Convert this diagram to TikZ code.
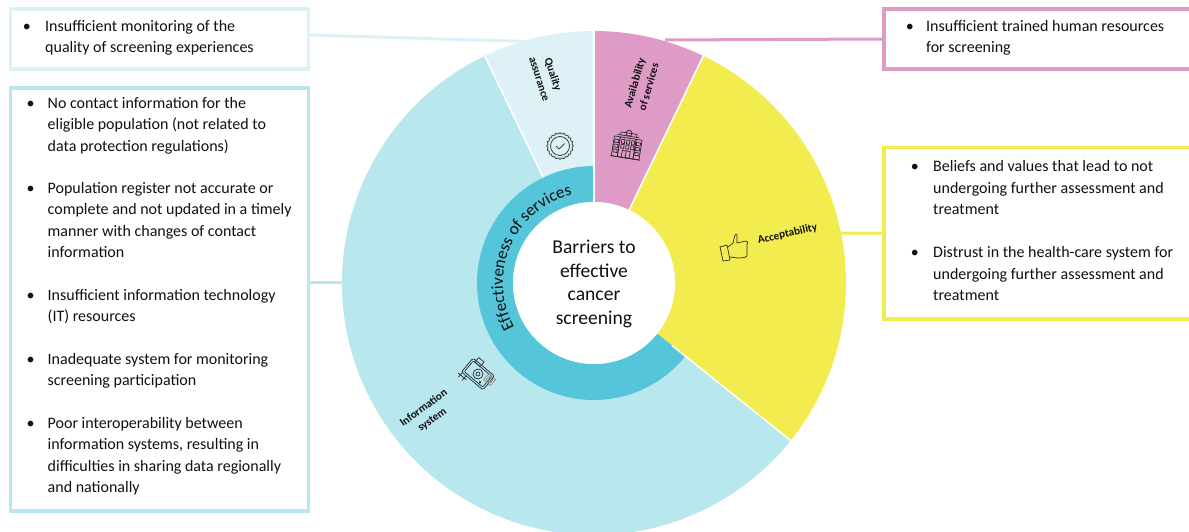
\documentclass[tikz,border=0pt]{standalone}
\usepackage{fontspec}
\setmainfont{Carlito}
\usetikzlibrary{decorations.text,calc}
\definecolor{qacol}{HTML}{DDF1F7}
\definecolor{iscol}{HTML}{B8E7EE}
\definecolor{ringcol}{HTML}{55C5D9}
\definecolor{avcol}{HTML}{DD9BC6}
\definecolor{accol}{HTML}{F3EC4F}
\definecolor{inkcol}{HTML}{111111}
\definecolor{iconcol}{HTML}{2A2A2A}
\newcommand{\bl}[1]{\makebox[0pt][r]{•\hspace{#1pt}}\strut}
\newcommand{\sector}[5]{\fill[#1] ([shift={(#2:#4pt)}]c) -- ([shift={(#2:#5pt)}]c) arc[start angle=#2,end angle=#3,radius=#5pt] -- ([shift={(#3:#4pt)}]c) arc[start angle=#3,end angle=#2,radius=#4pt] -- cycle;}
\newcommand{\spoke}[3]{\draw[white,line width=1.5pt] ([shift={(#1:#2pt)}]c) -- ([shift={(#1:#3pt)}]c);}
\tikzset{
  x=1pt,y=-1pt,
  boxnode/.style={draw=#1,line width=3.2pt,fill=white,inner sep=0pt,outer sep=0pt},
  conn/.style={draw=#1,line width=3pt},
  listtext/.style={anchor=north west,inner sep=0pt,align=left,text=inkcol,font=\fontsize{16}{21.35}\selectfont},
  seglabel/.style={align=center,text=inkcol,inner sep=0pt,font=\fontsize{11.2}{14.5}\selectfont\bfseries},
  iconline/.style={draw=iconcol,line width=0.7pt,fill=none,line join=round},
}
\begin{document}
\begin{tikzpicture}
\clip (0,0) rectangle (1189,532);
\fill[white] (0,0) rectangle (1189,532);
\coordinate (c) at (594,283);
\coordinate (qaend) at (545,42);
\coordinate (avend) at (665,40);
\coordinate (acend) at (840,233);
\coordinate (isend) at (350,282);

% boxes
\node[boxnode=qacol,minimum width=298pt,minimum height=60pt] (qabox) at (159.5,39) {};
\node[boxnode=iscol,minimum width=298pt,minimum height=423pt] (isbox) at (159.5,299.5) {};
\node[boxnode=avcol,minimum width=308pt,minimum height=60pt] (avbox) at (1038,39) {};
\node[boxnode=accol,minimum width=308pt,minimum height=171.5pt] (acbox) at (1038,233.25) {};

% connectors
\draw[conn=qacol] ([yshift=4pt]qabox.east) -- (qaend);
\draw[conn=iscol] ([yshift=17.5pt]isbox.east) -- (isend);
\draw[conn=avcol] (avbox.west) -- (avend);
\draw[conn=accol] (acbox.west) -- (acend);

% wheel
\sector{avcol}{64.3}{90}{81}{252}
\sector{accol}{-38.7}{64.3}{81}{252}
\sector{qacol}{90}{115.7}{81}{252}
\sector{iscol}{115.7}{321.3}{81}{252}
\sector{ringcol}{90}{321.3}{81}{117}
\fill[white] (c) circle[radius=81pt];
\spoke{90}{81}{252}
\spoke{64.3}{81}{252}
\spoke{115.7}{117}{252}
\spoke{-38.7}{100}{252}
\node[align=center,text=inkcol,inner sep=0pt,font=\fontsize{19.6}{23.8}\selectfont] (hub) at (594,284) {Barriers to\\effective\\cancer\\screening};

% ring text
\path[decorate,decoration={text along path,text align=center,text={|\fontsize{17}{18}\selectfont\color{inkcol}|Effectiveness of services}}]
  ([shift={(224:91pt)}]c) arc[start angle=224,end angle=89,radius=91pt];

% segment labels
\node[seglabel,rotate=-72] (lqa) at (546.5,76.5) {Quality\\assurance};
\node[seglabel,rotate=74] (lav) at (641.5,85) {Availability\\of services};
\node[seglabel,rotate=13] (lac) at (787.5,234) {Acceptability};
\node[seglabel,rotate=36] (lis) at (428,414) {Information\\system};

% badge icon
\begin{scope}[shift={(560,146)}]
  \draw[iconline] plot[domain=0:360,samples=145,smooth] ({(12.6+0.6*cos(20*\x))*cos(\x)},{(12.6+0.6*cos(20*\x))*sin(\x)}) -- cycle;
  \draw[iconline] (0,0) circle[radius=9.5pt];
  \draw[iconline] (-4,0) -- (-1,3) -- (4.5,-2.5);
\end{scope}

% building icon
\begin{scope}[shift={(627,146)},rotate=-9]
  \draw[iconline] (-14,-8) rectangle (-8,12);
  \draw[iconline] (8,-8) rectangle (14,12);
  \draw[iconline] (-8,-8) rectangle (8,12);
  \draw[iconline] (-11,-10) -- (11,-10);
  \draw[iconline] (-8,-10) -- (-8,-13) -- (8,-13) -- (8,-10);
  \draw[iconline] (0,-13) circle[radius=3pt];
  \foreach \yy in {-6,-1}{\foreach \xx in {-6,-1,4}{\draw[iconline] (\xx,\yy) rectangle ++(3,4);}}
  \foreach \yy in {-5,0,5}{\draw[iconline] (-13,\yy) rectangle ++(4,3);\draw[iconline] (9,\yy) rectangle ++(4,3);}
  \draw[iconline] (-4,5) rectangle (4,12);
  \draw[iconline] (0,5) -- (0,12);
  \draw[iconline] (-15,12) -- (15,12);
\end{scope}

% thumb icon
\draw[iconline] (720,247) -- (727,245) -- (730,260) -- (723,261) -- cycle;
\draw[iconline] (728,247) -- (733,243) -- (735,235) .. controls (737,233) and (738,236) .. (737,238) -- (737,243) -- (746,241) .. controls (748,241) and (748,243) .. (747,245) -- (747,256) .. controls (745,258) and (741,258) .. (738,258) -- (730,257);

% information-system icon
\begin{scope}[shift={(478,374)},rotate=-40]
  \draw[iconline,rounded corners=1.5pt] (-14,-9) rectangle (14,9);
  \draw[iconline,rounded corners=1pt] (-12,-7) rectangle (12,7);
  \draw[iconline] (0,0) circle[radius=5pt];
  \draw[iconline] (0,0) circle[radius=2pt];
  \draw[iconline] (-10,-13) rectangle (-3,-7);
  \draw[iconline,draw=iconcol!55] (8,-7) rectangle (17,1);
  \draw[iconline,draw=iconcol!55] (10,-5) rectangle (15,-1);
  \fill[iconcol] (7,5) circle[radius=1.3pt];
  \draw[iconline] (-13,9) -- (-13,15) (-8,9) -- (-8,15) (-16,12) -- (-5,12);
\end{scope}

% lists
\node[listtext] (t1) at (45,16.5) {\bl{14.4}Insufficient monitoring of the\\quality of screening experiences};
\node[listtext] (t2) at (47.5,93.5) {\bl{13}No contact information for the\\eligible population (not related to\\data protection regulations)};
\node[listtext] (t3) at (47.5,178.5) {\bl{13}Population register not accurate or\\complete and not updated in a timely\\manner with changes of contact\\information};
\node[listtext] (t4) at (47.5,285.5) {\bl{13}Insufficient information technology\\(IT) resources};
\node[listtext] (t5) at (47.5,349.5) {\bl{13}Inadequate system for monitoring\\screening participation};
\node[listtext] (t6) at (47.5,413.5) {\bl{13}Poor interoperability between\\information systems, resulting in\\difficulties in sharing data regionally\\and nationally};
\node[listtext] (t7) at (926,16.5) {\bl{12.4}Insufficient trained human resources\\for screening};
\node[listtext] (t8) at (933,156.7) {\bl{14.4}Beliefs and values that lead to not\\undergoing further assessment and\\treatment};
\node[listtext] (t9) at (933,242.7) {\bl{14.4}Distrust in the health-care system for\\undergoing further assessment and\\treatment};
\end{tikzpicture}
\end{document}
